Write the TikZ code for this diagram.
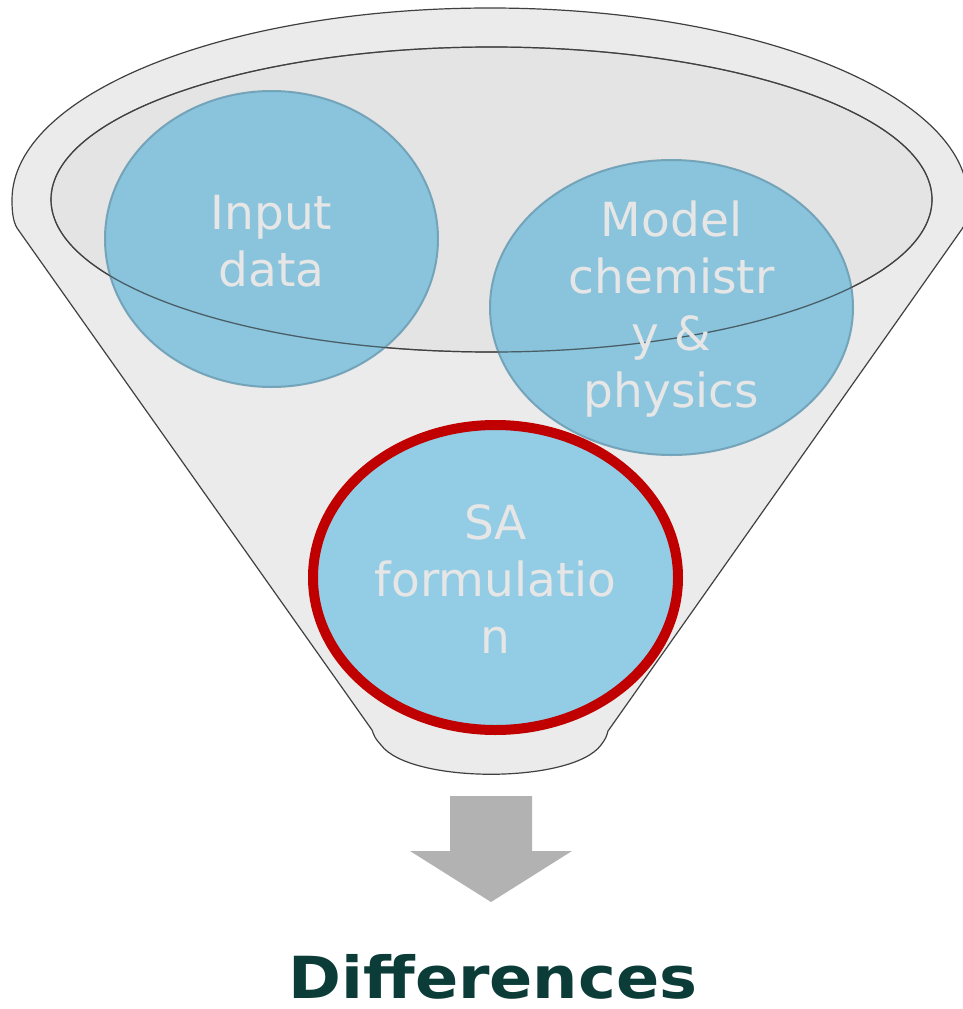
\documentclass[tikz,border=0pt]{standalone}
\usepackage{fontspec}
\setmainfont{DejaVu Sans}
\newfontfamily\headfont[FakeStretch=1.1]{DejaVu Sans}
\usetikzlibrary{positioning, calc, backgrounds, shapes.geometric}

\definecolor{funnelgray}{HTML}{EBEBEB}
\definecolor{innergray}{HTML}{E4E4E4}
\definecolor{edgegray}{HTML}{404040}
\definecolor{bubbleblue}{HTML}{73BCDB}
\definecolor{solidblue}{HTML}{92CDE5}
\definecolor{bubbleedge}{HTML}{6E9FB5}
\definecolor{bubbletext}{HTML}{E6E6E6}
\definecolor{accentred}{HTML}{C00000}
\definecolor{arrowgray}{HTML}{B2B2B2}
\definecolor{headteal}{HTML}{0B3C38}

\begin{document}
\begin{tikzpicture}[
    x=1pt, y=-1pt,
    funnel/.style={
        fill=funnelgray,
        draw=edgegray,
        line width=1.2pt
    },
    bubble/.style={
        ellipse,
        draw=bubbleedge,
        line width=2pt,
        fill=bubbleblue,
        fill opacity=0.8,
        draw opacity=0.9,
        inner sep=0pt
    },
    label text/.style={
        text=bubbletext,
        align=center,
        font=\fontsize{47}{57}\selectfont
    },
    big arrow/.style={
        fill=arrowgray,
        draw=none
    }
]
    \useasboundingbox (0,0) rectangle (963,1009);

    % Funnel body
    \draw[funnel] (17,228) -- (372,730)
        .. controls (375,738) .. (381,745)
        .. controls (410,784) and (572,784) .. (601,745)
        .. controls (606,738) .. (608,731)
        -- (962,229)
        .. controls (967,222) and (968,210) .. (968,200)
        arc[start angle=360, end angle=180, x radius=478, y radius=192]
        .. controls (12,212) and (13,221) .. (17,228) -- cycle;
    % Funnel mouth
    \node[ellipse, funnel, fill=innergray, minimum width=881, minimum height=305, inner sep=0pt] (mouth) at (491.5,199.5) {};

    % Bubbles
    \node[bubble, minimum width=333, minimum height=296] (input) at (271.5,239) {};
    \node[bubble, minimum width=363, minimum height=295] (model) at (671.5,307.5) {};
    \node[bubble, draw=accentred, fill=solidblue, line width=10pt, fill opacity=1, draw opacity=1, minimum width=365, minimum height=305] (sa) at (495.5,577.5) {};

    % rim seen through the bubbles
    \draw[edgegray, line width=1.2pt, draw opacity=0.7] (mouth.center) ellipse[x radius=440.5, y radius=152.5];

    \node[label text] (input-txt) at ($(input.center) + (0,2)$) {Input\\data};
    \node[label text] (model-txt) at ($(model.center) + (0,2)$) {Model\\chemistr\\y \&\\physics};
    \node[label text] (sa-txt) at ($(sa.center) + (0,2)$) {SA\\formulatio\\n};

    % Output arrow
    \draw[big arrow] (450,796) -- (532,796) -- (532,851) -- (572,851) -- (491,902)
        -- (410,851) -- (450,851) -- cycle;

    \node[anchor=base, text=headteal, inner sep=0pt, font=\headfont\bfseries\fontsize{58}{70}\selectfont] (diff) at (493,998) {Differences};
\end{tikzpicture}
\end{document}
